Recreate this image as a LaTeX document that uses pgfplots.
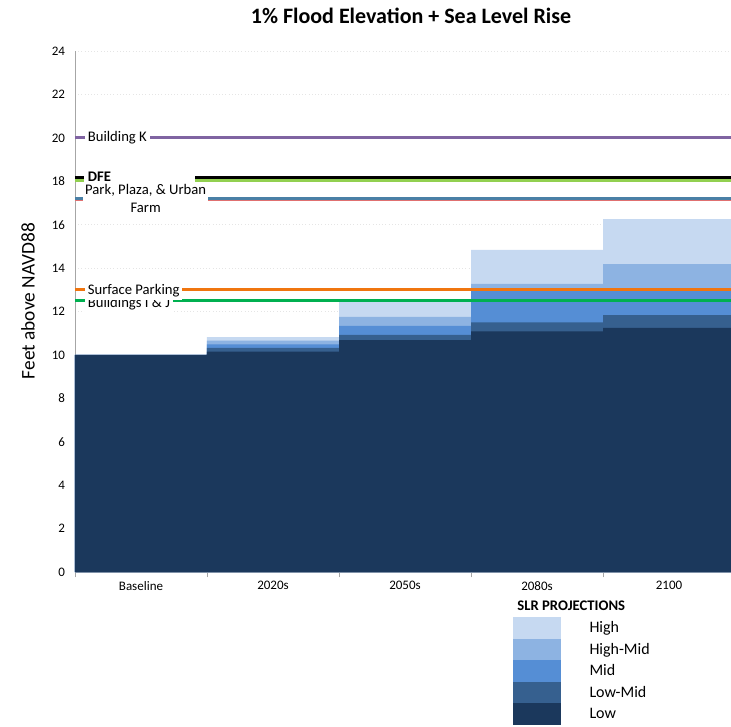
\documentclass[border=0pt]{standalone}
\usepackage{pgfplots}
\pgfplotsset{compat=1.18}
\usepackage{fontspec}
\setmainfont{Carlito}
\definecolor{cLow}{HTML}{1B385C}
\definecolor{cLowMid}{HTML}{36608F}
\definecolor{cMid}{HTML}{558ED5}
\definecolor{cHighMid}{HTML}{8DB3E2}
\definecolor{cHigh}{HTML}{C6D9F1}
\definecolor{lPurple}{HTML}{8064A2}
\definecolor{lLime}{HTML}{92D050}
\definecolor{lTeal}{HTML}{4A80A6}
\definecolor{lRed}{HTML}{E07070}
\definecolor{lOrange}{HTML}{F0750F}
\definecolor{lGreen}{HTML}{00B050}
\begin{document}
\begin{tikzpicture}
\begin{axis}[
  scale only axis, width=495pt, height=390.75pt,
  xmin=0, xmax=5, ymin=0, ymax=24,
  clip=false,
  axis x line*=bottom, axis y line*=left,
  axis line style={gray!70,-},
  ytick={0,2,...,24},
  ymajorgrids, grid style={gray!20, dotted},
  ytick style={draw=none},
  /pgf/number format/assume math mode=true,
  yticklabel style={font=\fontsize{9.75}{11}\selectfont},
  xtick={0,1,2,3,4,5}, xticklabels={},
  xtick style={gray!70}, tick align=outside, major tick length=4pt,
  extra x ticks={0.5,1.5,2.5,3.5,4.5},
  extra x tick labels={Baseline,2020s,2050s,2080s,2100},
  extra x tick style={major tick length=0pt, grid=none,
     tick label style={font=\fontsize{9.75}{11}\selectfont, yshift=-3.5pt}},
  ylabel={Feet above NAVD88},
  ylabel style={at={(axis description cs:-0.0712,0.52)}, anchor=center, font=\fontsize{14.5}{16}\selectfont},
  title={1\% Flood Elevation + Sea Level Rise},
  title style={at={(axis description cs:0.5,1)}, anchor=base, yshift=14.25pt, xshift=4.5pt, font=\bfseries\fontsize{16.5}{18}\selectfont},
  legend style={at={(axis description cs:0.6636,-0.0864)}, anchor=north west,
     draw=none, fill=none, inner sep=0pt, row sep=0pt,
     font=\fontsize{12}{13}\selectfont, nodes={inner sep=1pt}},
  legend cell align=left,
]
% cumulative tops of each projection band
\addplot[ybar, bar width=1, bar shift=0pt, fill=cHigh, draw=none, forget plot]
  coordinates {(0.5,10) (1.5,10.82) (2.5,12.45) (3.5,14.84) (4.5,16.25)};
\addplot[ybar, bar width=1, bar shift=0pt, fill=cHighMid, draw=none, forget plot]
  coordinates {(0.5,10) (1.5,10.66) (2.5,11.75) (3.5,13.27) (4.5,14.18)};
\addplot[ybar, bar width=1, bar shift=0pt, fill=cMid, draw=none, forget plot]
  coordinates {(0.5,10) (1.5,10.49) (2.5,11.34) (3.5,13.07) (4.5,13.02)};
\addplot[ybar, bar width=1, bar shift=0pt, fill=cLowMid, draw=none, forget plot]
  coordinates {(0.5,10) (1.5,10.32) (2.5,10.92) (3.5,11.50) (4.5,11.83)};
\addplot[ybar, bar width=1, bar shift=0pt, fill=cLow, draw=none, forget plot]
  coordinates {(0.5,10) (1.5,10.15) (2.5,10.68) (3.5,11.09) (4.5,11.24)};
% elevation lines
\addplot[lPurple, line width=2.25pt, forget plot] coordinates {(0,20) (5,20)};
\addplot[lLime, line width=2.25pt, forget plot] coordinates {(0,18.02) (5,18.02)};
\addplot[black, line width=2.25pt, forget plot] coordinates {(0,18.18) (5,18.18)};
\addplot[lRed, line width=0.8pt, forget plot] coordinates {(0,17.13) (5,17.13)};
\addplot[lTeal, line width=2.25pt, forget plot] coordinates {(0,17.21) (5,17.21)};
\addplot[lOrange, line width=2.25pt, forget plot] coordinates {(0,13.0) (5,13.0)};
\addplot[lGreen, line width=2.25pt, forget plot] coordinates {(0,12.52) (5,12.52)};
% labels
\node[anchor=west, fill=white, inner sep=2pt, font=\fontsize{11}{12}\selectfont] at (axis cs:0.075,20) {Building K};
\fill[white] (axis cs:0.068,17.9) rectangle (axis cs:0.91,18.4);
\node[anchor=west, fill=white, inner sep=1pt, font=\bfseries\fontsize{11}{12}\selectfont] at (axis cs:0.085,18.2) {DFE};
\node[anchor=north west, fill=white, inner sep=1.5pt, align=center, font=\fontsize{11}{13.5}\selectfont] at (axis cs:0.06,17.95) {Park, Plaza, \& Urban\\Farm};
\node[anchor=west, fill=white, inner sep=2pt, font=\fontsize{11}{12}\selectfont] at (axis cs:0.075,12.38) {Buildings I \& J};
\node[anchor=west, fill=white, inner sep=2pt, font=\fontsize{11}{12}\selectfont] at (axis cs:0.075,12.95) {Surface Parking};
% legend title
\node[anchor=west, font=\bfseries\fontsize{11}{12}\selectfont, inner sep=0pt] at (axis description cs:0.67,-0.065) {SLR PROJECTIONS};
% legend entries
\addlegendimage{legend image code/.code={\fill[cHigh] (0pt,-7.875pt) rectangle (35.25pt,7.875pt); \path[draw=none] (0pt,0pt) -- (56pt,0pt);}}
\addlegendentry{High}
\addlegendimage{legend image code/.code={\fill[cHighMid] (0pt,-7.875pt) rectangle (35.25pt,7.875pt); \path[draw=none] (0pt,0pt) -- (56pt,0pt);}}
\addlegendentry{High-Mid}
\addlegendimage{legend image code/.code={\fill[cMid] (0pt,-7.875pt) rectangle (35.25pt,7.875pt); \path[draw=none] (0pt,0pt) -- (56pt,0pt);}}
\addlegendentry{Mid}
\addlegendimage{legend image code/.code={\fill[cLowMid] (0pt,-7.875pt) rectangle (35.25pt,7.875pt); \path[draw=none] (0pt,0pt) -- (56pt,0pt);}}
\addlegendentry{Low-Mid}
\addlegendimage{legend image code/.code={\fill[cLow] (0pt,-7.875pt) rectangle (35.25pt,7.875pt); \path[draw=none] (0pt,0pt) -- (56pt,0pt);}}
\addlegendentry{Low}
\end{axis}
\pgfresetboundingbox
\path[use as bounding box] (current axis.south west) ++(-56.25pt,-116.25pt) rectangle ++(548.25pt,545.25pt);
\end{tikzpicture}
\end{document}
